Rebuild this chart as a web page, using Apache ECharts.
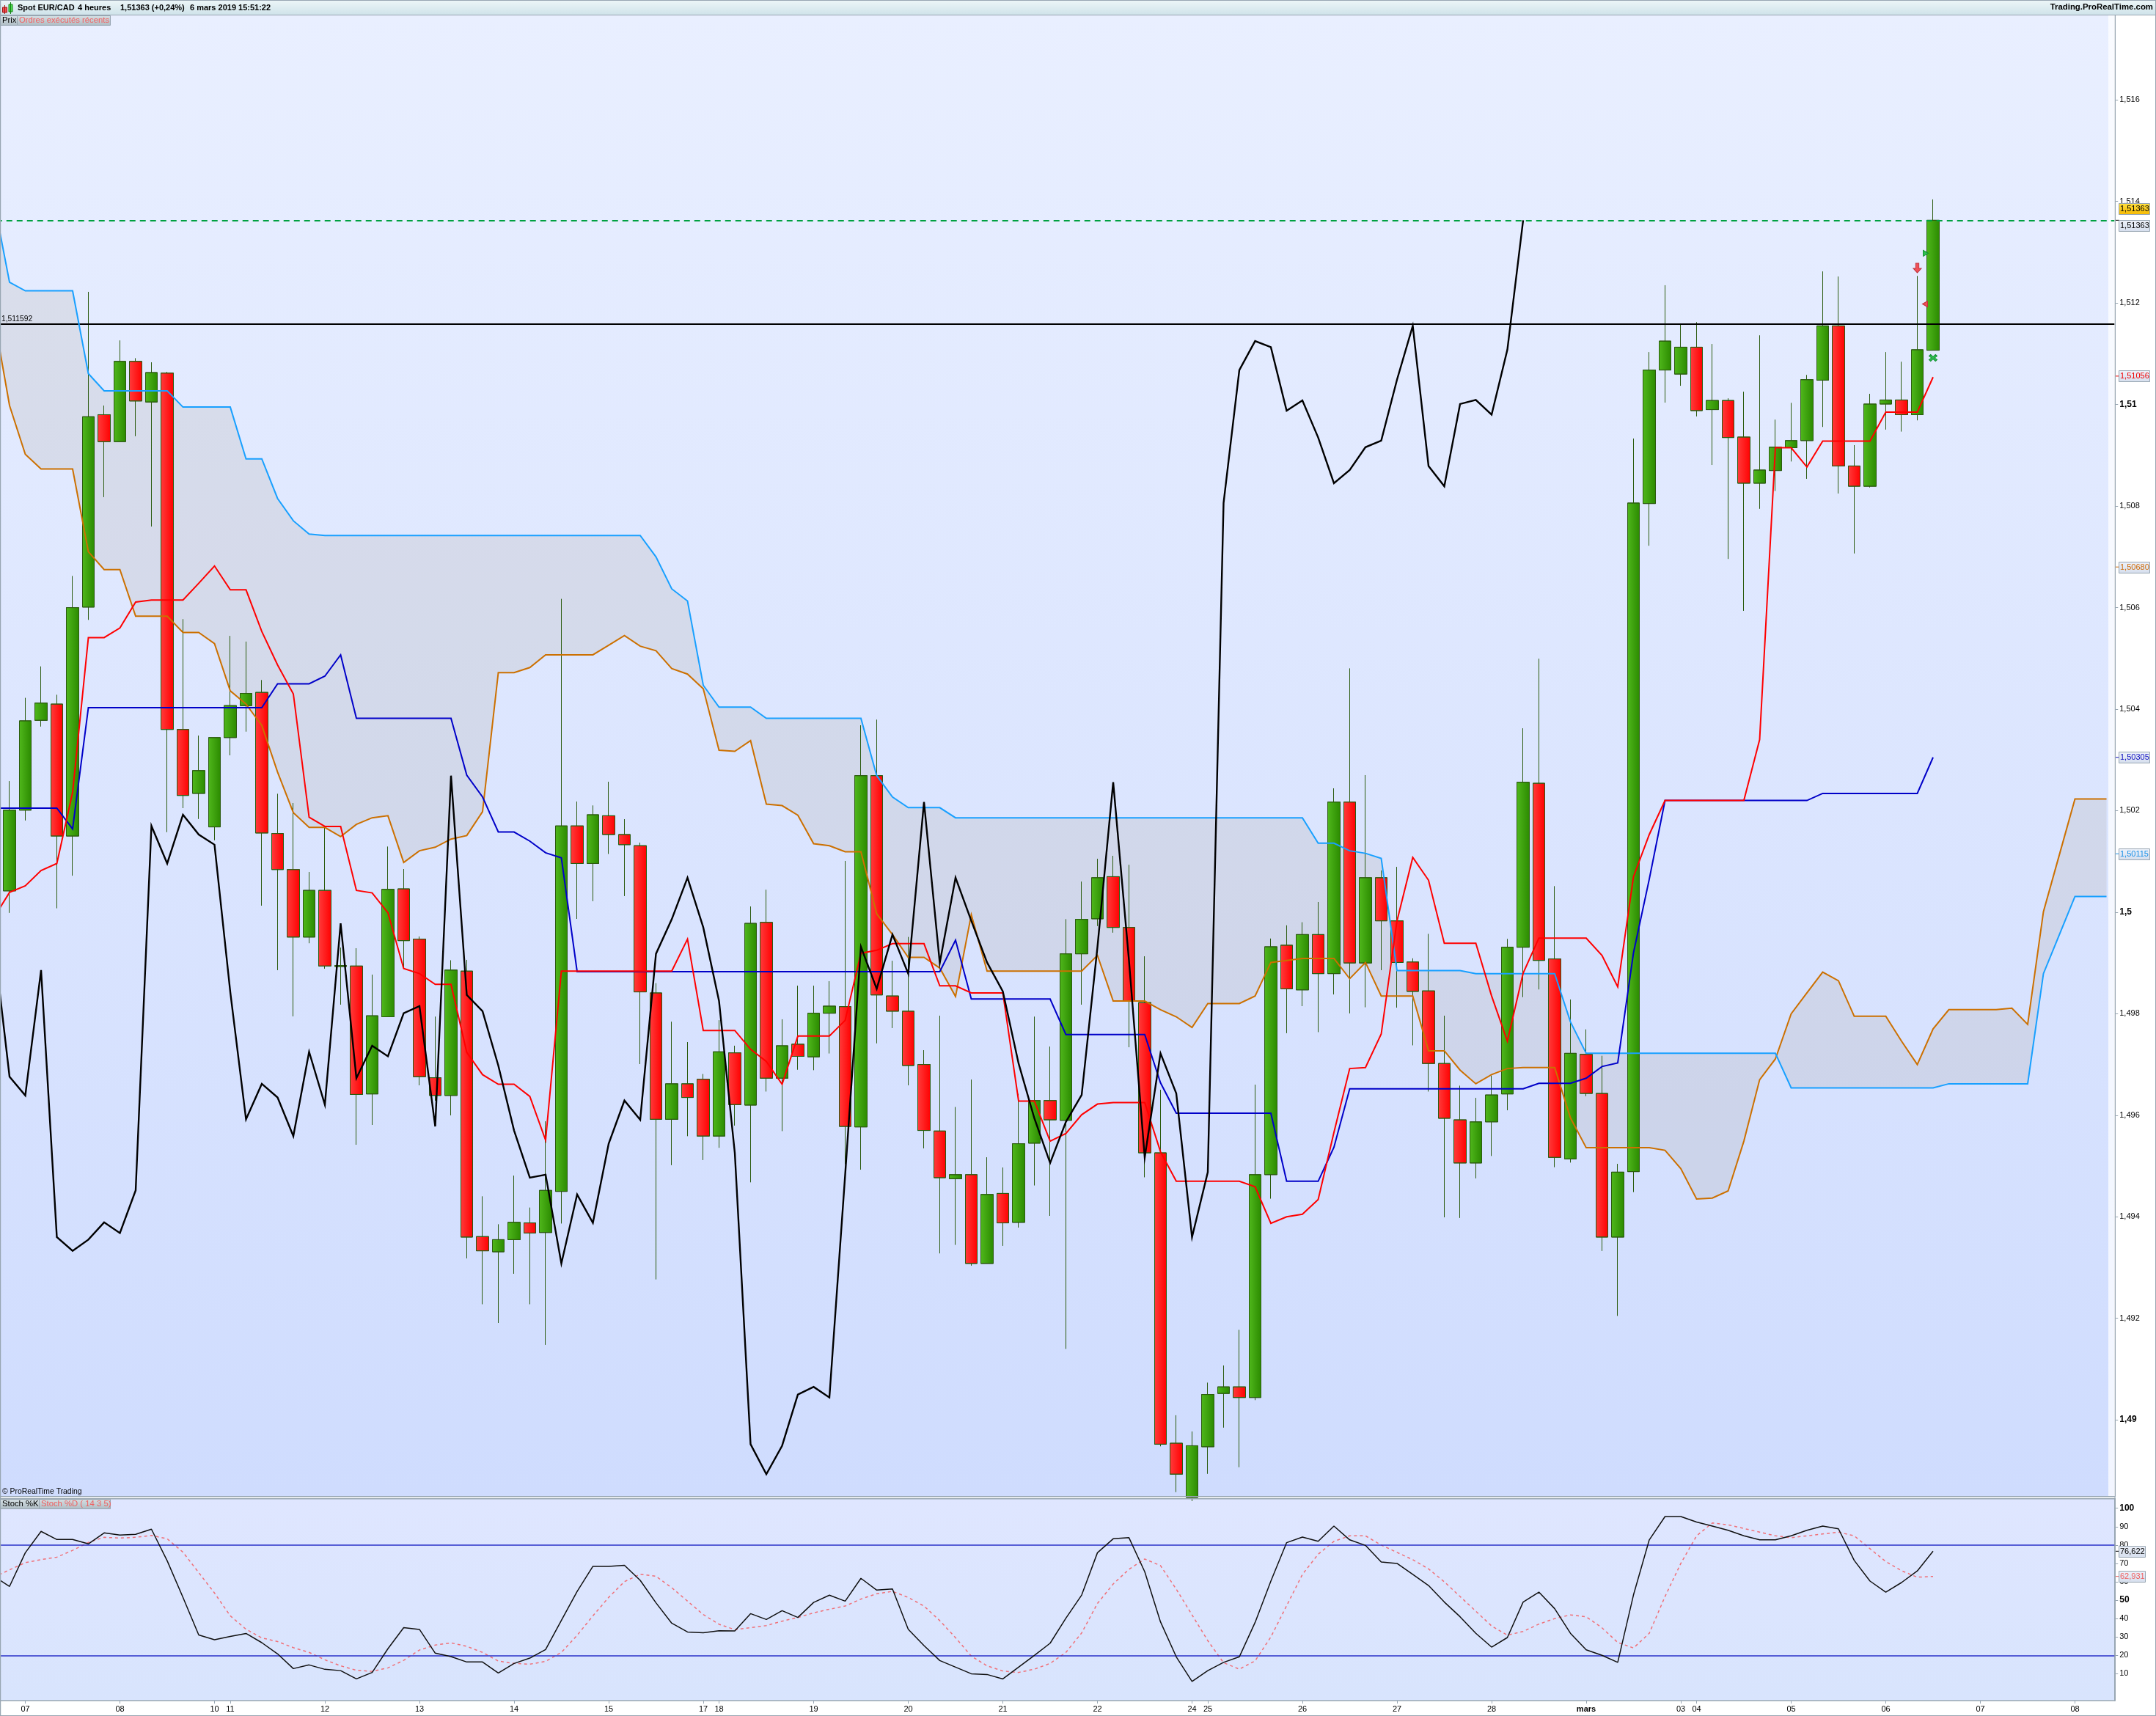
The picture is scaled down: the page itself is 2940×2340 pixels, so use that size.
<!DOCTYPE html>
<html>
<head>
<meta charset="utf-8">
<style>html,body{margin:0;padding:0;background:#fff}#c{width:2940px;height:2340px}</style>
<script src="https://cdn.jsdelivr.net/npm/echarts@6/dist/echarts.min.js"></script>
</head>
<body>
<div id="c"></div>
<script>
const opens=[null,1.50042,1.50201,1.50378,1.50410,1.50150,1.50601,1.50980,1.50927,1.51085,1.51005,1.51062,1.50360,1.50234,1.50168,1.50344,1.50407,1.50433,1.50155,1.50084,1.49951,1.50043,1.49893,1.49894,1.49642,1.49794,1.50046,1.49947,1.49674,1.49639,1.49884,1.49361,1.49331,1.49355,1.49388,1.49369,1.49450,1.50170,1.50096,1.50190,1.50153,1.50131,1.49841,1.49592,1.49662,1.49671,1.49559,1.49723,1.49620,1.49980,1.49673,1.49740,1.49715,1.49801,1.49814,1.49577,1.50269,1.49835,1.49805,1.49700,1.49569,1.49475,1.49483,1.49308,1.49446,1.49389,1.49545,1.49629,1.49590,1.49918,1.49987,1.50070,1.49970,1.49822,1.49526,1.48954,1.48847,1.48947,1.49052,1.49065,1.49044,1.49483,1.49935,1.49847,1.49956,1.49879,1.50217,1.49900,1.50068,1.49983,1.49902,1.49845,1.49702,1.49591,1.49506,1.49587,1.49642,1.49931,1.50254,1.49908,1.49514,1.49720,1.49643,1.49360,1.49489,1.50805,1.51068,1.51060,1.51113,1.50990,1.51008,1.50936,1.50845,1.50870,1.50915,1.50929,1.51048,1.51155,1.50879,1.50839,1.51001,1.51009,1.50980,1.51107];
const closes=[null,1.50201,1.50377,1.50412,1.50150,1.50600,1.50976,1.50927,1.51085,1.51007,1.51063,1.50360,1.50230,1.50279,1.50344,1.50407,1.50431,1.50156,1.50084,1.49951,1.50043,1.49894,1.49895,1.49641,1.49796,1.50045,1.49944,1.49676,1.49639,1.49886,1.49360,1.49333,1.49355,1.49389,1.49368,1.49452,1.50170,1.50096,1.50192,1.50153,1.50133,1.49843,1.49592,1.49662,1.49635,1.49559,1.49725,1.49621,1.49978,1.49673,1.49737,1.49716,1.49801,1.49815,1.49578,1.50269,1.49837,1.49805,1.49698,1.49570,1.49477,1.49483,1.49308,1.49444,1.49388,1.49544,1.49629,1.49591,1.49918,1.49986,1.50068,1.49970,1.49825,1.49526,1.48952,1.48893,1.48949,1.49050,1.49065,1.49044,1.49483,1.49932,1.49849,1.49956,1.49879,1.50217,1.49900,1.50068,1.49983,1.49901,1.49844,1.49702,1.49594,1.49506,1.49587,1.49640,1.49931,1.50256,1.49905,1.49517,1.49722,1.49643,1.49360,1.49488,1.50806,1.51068,1.51125,1.51113,1.50988,1.51008,1.50935,1.50845,1.50871,1.50916,1.50929,1.51049,1.51155,1.50879,1.50839,1.51001,1.51009,1.50980,1.51108,1.51363];
const lows=[null,1.49999,1.50181,1.50366,1.50008,1.50072,1.50576,1.50818,1.50927,1.50938,1.50760,1.50158,1.50205,1.50184,1.50142,1.50309,1.50356,1.50013,1.49886,1.49795,1.49939,1.49889,1.49818,1.49542,1.49581,1.49794,1.49890,1.49659,1.49629,1.49600,1.49318,1.49228,1.49191,1.49288,1.49228,1.49148,1.49387,1.49987,1.50022,1.50115,1.50032,1.49701,1.49277,1.49502,1.49559,1.49512,1.49536,1.49580,1.49468,1.49647,1.49569,1.49690,1.49689,1.49722,1.49504,1.49493,1.49742,1.49772,1.49659,1.49535,1.49328,1.49345,1.49304,1.49308,1.49343,1.49379,1.49462,1.49402,1.49140,1.49818,1.49973,1.49960,1.49734,1.49478,1.48948,1.48858,1.48840,1.48894,1.48985,1.48907,1.49039,1.49436,1.49762,1.49815,1.49764,1.49838,1.49801,1.49813,1.49886,1.49812,1.49738,1.49647,1.49399,1.49398,1.49476,1.49520,1.49610,1.49833,1.49848,1.49498,1.49507,1.49638,1.49333,1.49205,1.49449,1.50722,1.51004,1.51037,1.50977,1.50881,1.50696,1.50594,1.50795,1.50830,1.50888,1.50854,1.50956,1.50825,1.50707,1.50837,1.50951,1.50947,1.50969,1.51107];
const highs=[null,1.50258,1.50422,1.50484,1.50428,1.50662,1.51222,1.50998,1.51126,1.51091,1.51083,1.51064,1.50577,1.50348,1.50344,1.50544,1.50533,1.50457,1.50233,1.50215,1.50079,1.50168,1.49930,1.49929,1.49877,1.50129,1.50085,1.49952,1.49794,1.49905,1.49906,1.49440,1.49385,1.49481,1.49418,1.49588,1.50617,1.50218,1.50210,1.50257,1.50183,1.50137,1.49860,1.49784,1.49744,1.49681,1.49787,1.49737,1.50011,1.50044,1.49789,1.49855,1.49855,1.49864,1.50101,1.50368,1.50379,1.49904,1.49951,1.49728,1.49796,1.49616,1.49670,1.49517,1.49497,1.49642,1.49794,1.49735,1.49986,1.50060,1.50105,1.50111,1.50093,1.49913,1.49650,1.49009,1.48977,1.49073,1.49107,1.49177,1.49660,1.49948,1.49974,1.49980,1.50020,1.50244,1.50480,1.50270,1.50082,1.50089,1.49909,1.49957,1.49796,1.49658,1.49634,1.49678,1.49947,1.50362,1.50499,1.50051,1.49828,1.49769,1.49717,1.49504,1.50933,1.51103,1.51235,1.51159,1.51162,1.51119,1.51012,1.51025,1.51136,1.50970,1.51003,1.51058,1.51262,1.51252,1.50920,1.51021,1.51103,1.51084,1.51253,1.51404];
const tenkan=[1.49989,1.50039,1.50052,1.50082,1.50096,1.50236,1.50541,1.50541,1.50560,1.50611,1.50615,1.50615,1.50615,1.50648,1.50682,1.50635,1.50635,1.50553,1.50487,1.50430,1.50187,1.50169,1.50169,1.50043,1.50038,1.49999,1.49889,1.49879,1.49858,1.49858,1.49724,1.49680,1.49661,1.49661,1.49637,1.49551,1.49884,1.49884,1.49884,1.49884,1.49884,1.49884,1.49884,1.49884,1.49947,1.49767,1.49767,1.49767,1.49730,1.49706,1.49661,1.49756,1.49756,1.49756,1.49787,1.49919,1.49925,1.49938,1.49938,1.49938,1.49855,1.49855,1.49841,1.49841,1.49841,1.49628,1.49628,1.49549,1.49564,1.49601,1.49622,1.49625,1.49625,1.49625,1.49528,1.49470,1.49470,1.49470,1.49470,1.49470,1.49459,1.49387,1.49400,1.49405,1.49434,1.49566,1.49692,1.49694,1.49760,1.49983,1.50108,1.50063,1.49939,1.49939,1.49939,1.49835,1.49746,1.49880,1.49949,1.49949,1.49949,1.49949,1.49915,1.49853,1.50070,1.50153,1.50220,1.50220,1.50220,1.50220,1.50220,1.50220,1.50340,1.50915,1.50915,1.50877,1.50928,1.50928,1.50928,1.50928,1.50985,1.50985,1.50985,1.51054];
const kijun=[1.50205,1.50205,1.50205,1.50205,1.50205,1.50164,1.50403,1.50403,1.50403,1.50403,1.50403,1.50403,1.50403,1.50403,1.50403,1.50403,1.50403,1.50403,1.50450,1.50450,1.50450,1.50465,1.50507,1.50382,1.50382,1.50382,1.50382,1.50382,1.50382,1.50382,1.50270,1.50227,1.50158,1.50158,1.50140,1.50117,1.50107,1.49883,1.49883,1.49883,1.49883,1.49883,1.49883,1.49883,1.49883,1.49883,1.49883,1.49883,1.49883,1.49883,1.49883,1.49883,1.49883,1.49883,1.49883,1.49883,1.49883,1.49883,1.49883,1.49883,1.49883,1.49945,1.49829,1.49829,1.49829,1.49829,1.49829,1.49829,1.49759,1.49759,1.49759,1.49759,1.49759,1.49759,1.49664,1.49604,1.49604,1.49604,1.49604,1.49604,1.49604,1.49604,1.49470,1.49470,1.49470,1.49537,1.49652,1.49652,1.49652,1.49652,1.49652,1.49652,1.49652,1.49652,1.49652,1.49652,1.49652,1.49652,1.49663,1.49663,1.49663,1.49673,1.49696,1.49703,1.49920,1.50065,1.50220,1.50220,1.50220,1.50220,1.50220,1.50220,1.50220,1.50220,1.50220,1.50220,1.50234,1.50234,1.50234,1.50234,1.50234,1.50234,1.50234,1.50305];
const chikou=[1.49944,1.49676,1.49639,1.49886,1.49360,1.49333,1.49355,1.49389,1.49368,1.49452,1.50170,1.50096,1.50192,1.50153,1.50133,1.49843,1.49592,1.49662,1.49635,1.49559,1.49725,1.49621,1.49978,1.49673,1.49737,1.49716,1.49801,1.49815,1.49578,1.50269,1.49837,1.49805,1.49698,1.49570,1.49477,1.49483,1.49308,1.49444,1.49388,1.49544,1.49629,1.49591,1.49918,1.49986,1.50068,1.49970,1.49825,1.49526,1.48952,1.48893,1.48949,1.49050,1.49065,1.49044,1.49483,1.49932,1.49849,1.49956,1.49879,1.50217,1.49900,1.50068,1.49983,1.49901,1.49844,1.49702,1.49594,1.49506,1.49587,1.49640,1.49931,1.50256,1.49905,1.49517,1.49722,1.49643,1.49360,1.49488,1.50806,1.51068,1.51125,1.51113,1.50988,1.51008,1.50935,1.50845,1.50871,1.50916,1.50929,1.51049,1.51155,1.50879,1.50839,1.51001,1.51009,1.50980,1.51108,1.51363];
const senkouA=[1.51175,1.50998,1.50902,1.50873,1.50873,1.50873,1.50710,1.50675,1.50675,1.50583,1.50583,1.50583,1.50551,1.50551,1.50529,1.50436,1.50410,1.50368,1.50276,1.50196,1.50167,1.50167,1.50149,1.50173,1.50186,1.50190,1.50098,1.50121,1.50128,1.50144,1.50151,1.50198,1.50472,1.50472,1.50482,1.50507,1.50507,1.50507,1.50507,1.50526,1.50545,1.50524,1.50515,1.50480,1.50469,1.50440,1.50319,1.50317,1.50338,1.50213,1.50210,1.50191,1.50135,1.50131,1.50119,1.50119,1.49997,1.49956,1.49911,1.49911,1.49890,1.49834,1.49995,1.49884,1.49884,1.49884,1.49884,1.49884,1.49884,1.49884,1.49915,1.49825,1.49825,1.49825,1.49808,1.49794,1.49773,1.49820,1.49820,1.49820,1.49835,1.49901,1.49905,1.49909,1.49909,1.49909,1.49869,1.49901,1.49835,1.49835,1.49835,1.49727,1.49727,1.49689,1.49662,1.49680,1.49692,1.49694,1.49694,1.49694,1.49595,1.49536,1.49536,1.49536,1.49536,1.49536,1.49531,1.49495,1.49435,1.49437,1.49451,1.49549,1.49670,1.49711,1.49800,1.49841,1.49882,1.49865,1.49795,1.49795,1.49795,1.49746,1.49700,1.49770,1.49808,1.49808,1.49808,1.49808,1.49811,1.49779,1.50001,1.50112,1.50223,1.50223,1.50223];
const senkouB=[1.51402,1.51241,1.51224,1.51224,1.51224,1.51224,1.51061,1.51027,1.51027,1.51027,1.51027,1.51027,1.50995,1.50995,1.50995,1.50995,1.50893,1.50893,1.50815,1.50771,1.50745,1.50742,1.50742,1.50742,1.50742,1.50742,1.50742,1.50742,1.50742,1.50742,1.50742,1.50742,1.50742,1.50742,1.50742,1.50742,1.50742,1.50742,1.50742,1.50742,1.50742,1.50742,1.50700,1.50637,1.50613,1.50447,1.50404,1.50404,1.50404,1.50382,1.50382,1.50382,1.50382,1.50382,1.50382,1.50382,1.50269,1.50227,1.50206,1.50206,1.50206,1.50186,1.50186,1.50186,1.50186,1.50186,1.50186,1.50186,1.50186,1.50186,1.50186,1.50186,1.50186,1.50186,1.50186,1.50186,1.50186,1.50186,1.50186,1.50186,1.50186,1.50186,1.50186,1.50186,1.50136,1.50136,1.50121,1.50116,1.50106,1.49885,1.49885,1.49885,1.49885,1.49885,1.49879,1.49879,1.49879,1.49879,1.49879,1.49879,1.49784,1.49722,1.49722,1.49722,1.49722,1.49722,1.49722,1.49722,1.49722,1.49722,1.49722,1.49722,1.49722,1.49722,1.49654,1.49654,1.49654,1.49654,1.49654,1.49654,1.49654,1.49654,1.49654,1.49654,1.49662,1.49662,1.49662,1.49662,1.49662,1.49662,1.49879,1.49955,1.50031,1.50031,1.50031];
const stochK=[63,57.5,75.8,87.4,83,83,80.6,86.6,85.4,85.8,88.6,71.4,51.5,31.1,28.5,30.3,31.9,26.9,20.8,12.8,14.8,12.4,11.7,7.2,10.7,23.6,35.1,34.1,21.2,19.3,16.4,16.4,10.4,15.6,18.5,23.2,39,54.8,68.4,68.4,69,60.8,48.6,37.5,32.7,32.3,33.4,33.3,42.7,39.5,44.3,40.6,48.8,52.7,49.5,61.9,55.5,56.1,34.2,25.3,17.2,13.6,10,9.6,7.2,13.6,20,26.6,40.2,52.8,75.8,83.4,84,65.5,38.2,19.2,5.8,11.7,16.2,19.2,37.9,60.4,81.3,84.3,82,90.3,82.8,79.8,70.8,70,64,58,49,41,32,24.5,29.7,49,54.4,45.4,32,23,20,16.2,52.9,82.8,95.5,95.5,92.5,90.3,88,85,82.8,82.8,85,88,90.3,88.8,71.6,60.4,54.4,59.6,65.9,76.62];
const stochD=[62.5,66.5,70.4,72.1,73.4,77.1,81.4,84.2,83.8,84.2,85.2,83.4,76.1,65,53.9,41.5,34.2,29.5,27.5,24.2,21.6,17.6,14.3,11.9,11.3,13.2,17.3,22.9,25.6,26.8,24.9,21.6,16.9,15.6,15.2,16.7,21.6,30.9,41.5,51.5,60.1,64.1,63,56.8,49.5,42.2,36.9,34,35.1,36.2,38.6,40.6,43.1,45.1,46.8,50.6,53.5,54.8,51.5,46.8,38.9,29.6,19.6,14.3,11.5,10.7,12.5,15.6,21.6,32.2,48.2,58.8,66.8,72.4,68.8,56,42,28,16,12.5,17,30,47,64,75,82,85,85,80,76,72,67,60,52,44,36,31,33,37,40,42,41,35,27,24,32,52,70,85,92,91,89,87,85,84,85,86,87,85,78,71,66,62.5,62.93];
const tickIndex=[2,8,14,15,21,27,33,39,45,46,52,58,64,70,76,77,83,89,95,101,107,108,114,120,126,132];
const tickLabels=['07','08','10','11','12','13','14','15','17','18','19','20','21','22','24','25','26','27','28','mars','03','04','05','06','07','08'];
const priceTicks=[1.49,1.492,1.494,1.496,1.498,1.5,1.502,1.504,1.506,1.508,1.51,1.512,1.514,1.516];
const stochTicks=[10,20,30,40,50,60,70,80,90,100];
const resistance=1.511592, lastPrice=1.51363;
const stochLevels=[20,80];
const markerArrow=[[122,1.51269]], markerCross=[[123,1.51092]], markerLeft=[[123,1.51198]], markerRight=[[123,1.51298]];
const priceBoxes=[
 {v:1.51363,t:'1,51363',dy:-16,c:'#000',a:'#ffe040',b:'#f5b800',tick:null},
 {v:1.51363,t:'1,51363',dy:7,c:'#000',a:'#eef2fa',b:'#d5deed',tick:'#000'},
 {v:1.51056,t:'1,51056',dy:0,c:'#f00000',a:'#eef2fa',b:'#d5deed',tick:'#f00000'},
 {v:1.5068,t:'1,50680',dy:0,c:'#d07010',a:'#eef2fa',b:'#d5deed',tick:'#d07010'},
 {v:1.50305,t:'1,50305',dy:0,c:'#1010c0',a:'#eef2fa',b:'#d5deed',tick:'#1010c0'},
 {v:1.50115,t:'1,50115',dy:0,c:'#1890e8',a:'#eef2fa',b:'#d5deed',tick:'#1890e8'}];
const stochBoxes=[
 {v:76.622,t:'76,622',c:'#000',tick:'#000'},
 {v:62.931,t:'62,931',c:'#f06060',tick:'#f06060'}];

const FONT='"Liberation Sans", Arial, sans-serif';
const GREY='#98a6b2';
const categories=new Array(135).fill('');
tickIndex.forEach((ix,k)=>{categories[ix]=tickLabels[k];});
const candles=opens.map((o,i)=>o===null?['-','-','-','-']:[o,closes[i],lows[i],highs[i]]);
const LG=echarts.graphic.LinearGradient;
const chart=echarts.init(document.getElementById('c'),null,{renderer:'canvas',width:2940,height:2340});
const hGrad=(a,b)=>new LG(0,0,1,0,[{offset:0,color:a},{offset:1,color:b}]);
const vGrad=(a,b)=>new LG(0,0,0,1,[{offset:0,color:a},{offset:1,color:b}]);
const tickShow=(idx)=>categories[idx]!=='';
const lineS=(name,data,color,width,extra)=>Object.assign({type:'line',name,data,xAxisIndex:0,yAxisIndex:0,symbol:'none',smooth:false,z:5,
  lineStyle:{color,width,join:'miter',cap:'butt'},silent:true,animation:false},extra||{});
const marker=(data,path,size,fill,stroke,off)=>({type:'scatter',data,xAxisIndex:0,yAxisIndex:0,symbol:path,symbolSize:size,symbolOffset:off||[0,0],z:7,silent:true,
  itemStyle:{color:fill,borderColor:stroke,borderWidth:1,opacity:1}});

chart.setOption({
 animation:false,
 backgroundColor:'#ffffff',
 textStyle:{fontFamily:FONT},
 grid:[
  {left:-19.25,top:20,width:2902.5,height:2020,show:true,borderWidth:0,outerBoundsMode:'none',containLabel:false,backgroundColor:vGrad('#e9efff','#cfdcfe')},
  {left:-19.25,top:2043,width:2902.5,height:276,show:true,borderWidth:0,outerBoundsMode:'none',containLabel:false,backgroundColor:vGrad('#dfe6ff','#d8e4fd')}
 ],
 xAxis:[
  {type:'category',gridIndex:0,data:categories,boundaryGap:true,axisLine:{show:false},axisTick:{show:false},axisLabel:{show:false},splitLine:{show:false}},
  {type:'category',gridIndex:1,data:categories,boundaryGap:true,position:'bottom',
   axisLine:{show:true,onZero:false,lineStyle:{color:GREY,width:1.5}},
   axisTick:{show:true,alignWithLabel:true,length:4,interval:tickShow,lineStyle:{color:GREY,width:1}},
   axisLabel:{show:true,interval:tickShow,margin:6,fontSize:11,fontFamily:FONT,color:'#000',hideOverlap:false,
     formatter:v=>v==='mars'?'{b|mars}':v,rich:{b:{fontWeight:'bold',fontSize:11,fontFamily:FONT,color:'#000'}}},
   splitLine:{show:false}}
 ],
 yAxis:[
  {type:'value',gridIndex:0,position:'right',min:1.4885,max:1.51768,scale:true,
   axisLine:{show:true,onZero:false,lineStyle:{color:GREY,width:2}},
   axisTick:{show:true,length:5,customValues:priceTicks,lineStyle:{color:GREY,width:1}},
   axisLabel:{show:true,margin:7,fontSize:11,fontFamily:FONT,color:'#000',customValues:priceTicks,showMinLabel:true,showMaxLabel:true,
    formatter:v=>{const s=String(+v.toFixed(3)).replace('.',',');return s.length<=4?'{b|'+s+'}':s;},
    rich:{b:{fontWeight:'bold',fontSize:12,fontFamily:FONT,color:'#000'}}},
   splitLine:{show:false}},
  {type:'value',gridIndex:1,position:'right',min:-4.6,max:105.46,
   axisLine:{show:true,onZero:false,lineStyle:{color:GREY,width:2}},
   axisTick:{show:true,length:5,customValues:stochTicks,lineStyle:{color:GREY,width:1}},
   axisLabel:{show:true,margin:7,fontSize:11,fontFamily:FONT,color:'#000',customValues:stochTicks,
    formatter:v=>(v===100||v===50)?'{b|'+v+'}':String(v),
    rich:{b:{fontWeight:'bold',fontSize:12,fontFamily:FONT,color:'#000'}}},
   splitLine:{show:false}}
 ],
 series:[
  {type:'custom',name:'Nuage',xAxisIndex:0,yAxisIndex:0,z:1,silent:true,data:[[0,senkouA[0]]],
   renderItem:(p,api)=>{
     const pts=senkouA.map((v,i)=>api.coord([i,v]));
     for(let i=senkouB.length-1;i>=0;i--)pts.push(api.coord([i,senkouB[i]]));
     return {type:'polygon',shape:{points:pts},style:{fill:'rgba(160,150,130,0.16)',stroke:'none'}};
   }},
  {type:'candlestick',name:'Prix',data:candles,xAxisIndex:0,yAxisIndex:0,barWidth:17,z:3,silent:true,clip:true,
   itemStyle:{color:hGrad('#50b81c','#2b8a00'),color0:hGrad('#ff3c3c','#ff0000'),borderColor:'#2c5c10',borderColor0:'#2c5c10',borderColorDoji:'#2c5c10',borderWidth:1}},
  lineS('Senkou A',senkouA,'#cc7000',2),
  lineS('Senkou B',senkouB,'#18a0ff',2),
  lineS('Kijun',kijun,'#0000c8',2),
  lineS('Tenkan',tenkan,'#ff0000',2),
  lineS('Chikou',chikou,'#000000',2.4),
  {type:'line',data:[],xAxisIndex:0,yAxisIndex:0,z:6,silent:true,
   markLine:{silent:true,symbol:'none',animation:false,precision:7,label:{show:false},data:[
     {yAxis:resistance,lineStyle:{color:'#000',width:2.2,type:'solid'}},
     {yAxis:lastPrice,lineStyle:{color:'#00a040',width:2,type:[8,6]}}]}},
  marker(markerArrow,'path://M3,0H7V6H10L5,11L0,6H3Z',[11,13],'#f05058','#c03038'),
  marker(markerCross,'path://M0,2L2,0L5,3L8,0L10,2L7,4.5L10,7L8,9L5,6L2,9L0,7L3,4.5Z',[11,9],'#30c050','#109030'),
  marker(markerLeft,'path://M6,0V8L0,4Z',[7,8],'#f05058','#c03038',[-11,0]),
  marker(markerRight,'path://M0,0V8L6,4Z',[7,8],'#30c050','#109030',[-10,0]),
  {type:'line',name:'Stoch %K',data:stochK,xAxisIndex:1,yAxisIndex:1,symbol:'none',z:5,silent:true,lineStyle:{color:'#101010',width:1.5}},
  {type:'line',name:'Stoch %D',data:stochD,xAxisIndex:1,yAxisIndex:1,symbol:'none',z:4,silent:true,lineStyle:{color:'#f07078',width:1.5,type:[4,4]},
   markLine:{silent:true,symbol:'none',animation:false,label:{show:false},
     data:stochLevels.map(v=>({yAxis:v})),lineStyle:{color:'#2a32c8',width:1.5,type:'solid'}}}
 ]
});

const txt=(x,y,t,o)=>({type:'text',z:100,x,y,silent:true,style:Object.assign({text:t,font:'11px '+FONT,fill:'#000',textVerticalAlign:'middle',textBaseline:'middle'},o||{})});
const rect=(x,y,w,h,fill,stroke,z)=>({type:'rect',z:z||100,silent:true,shape:{x,y,width:w,height:h},style:{fill,stroke:stroke||'none',lineWidth:stroke?1:0}});
const chip=(x,y,w,h)=>rect(x+.5,y+.5,w,h,vGrad('#d6e0e4','#aebcc4'),GREY,99);
const chipFont='11.3px '+FONT;
const g=[];
// lighter strip at right of the price panel
g.push(rect(2875,20,9,2020,'rgba(255,255,255,0.72)',null,1));
// header
g.push(rect(0,0,2940,20,vGrad('#edf6f8','#cfe3ea'),null,90));
g.push(rect(0,0,2940,1,GREY,null,95),rect(0,20,2940,1,GREY,null,95));
g.push(rect(3.5,10,6,7,'#f05050','#a01010',96),rect(12,6,5,10,'#50e050','#108010',96));
g.push({type:'line',z:96,silent:true,shape:{x1:14.5,y1:3,x2:14.5,y2:19},style:{stroke:'#108010',lineWidth:1}});
g.push({type:'line',z:96,silent:true,shape:{x1:6.5,y1:7,x2:6.5,y2:19},style:{stroke:'#a01010',lineWidth:1}});
const hf='bold 11px '+FONT;
g.push(txt(24,11,'Spot EUR/CAD',{font:hf}),txt(106,11,'4 heures',{font:hf}),txt(164,11,'1,51363 (+0,24%)',{font:hf}),txt(259,11,'6 mars 2019 15:51:22',{font:hf}));
g.push(txt(2936,10,'Trading.ProRealTime.com',{font:'bold 11.4px '+FONT,textAlign:'right'}));
// chips
g.push(chip(0,21,23,13),chip(23,21,127,13));
g.push(txt(3,28,'Prix',{font:chipFont}),txt(26,28,'Ordres exécutés récents',{font:chipFont,fill:'#f56060'}));
g.push(chip(0,2044,53,13),chip(53,2044,97,13));
g.push(txt(3,2051,'Stoch %K',{font:chipFont}),txt(56,2051,'Stoch %D ( 14 3 5)',{font:chipFont,fill:'#f06060'}));
g.push(txt(3,2034,'© ProRealTime Trading',{font:'10.4px '+FONT}));
const ry=chart.convertToPixel({yAxisIndex:0},resistance);
g.push(txt(2,ry-6,'1,511592',{font:'10.3px '+FONT}));
// panel frame
g.push(rect(0,2040,2885,1.5,GREY,null,95),rect(0,2043,2885,1.5,GREY,null,95));
g.push(rect(0,0,1.2,2340,GREY,null,95),rect(2939,0,1,2340,GREY,null,95),rect(0,2339,2940,1,GREY,null,95));
// value boxes
priceBoxes.forEach(b=>{
  const y=chart.convertToPixel({yAxisIndex:0},b.v);
  if(b.tick)g.push({type:'line',z:98,silent:true,shape:{x1:2885,y1:y,x2:2890,y2:y},style:{stroke:b.tick,lineWidth:1}});
  g.push(rect(2889.5,Math.round(y+b.dy-7.5)+.5,42,15,vGrad(b.a,b.b),GREY,99));
  g.push(txt(2891,y+b.dy+.5,b.t,{fill:b.c}));
});
stochBoxes.forEach(b=>{
  const y=chart.convertToPixel({yAxisIndex:1},b.v);
  g.push({type:'line',z:98,silent:true,shape:{x1:2885,y1:y,x2:2890,y2:y},style:{stroke:b.tick,lineWidth:1}});
  g.push(rect(2889.5,Math.round(y-7.5)+.5,36,15,vGrad('#eef2fa','#d5deed'),GREY,99));
  g.push(txt(2891,y+.5,b.t,{fill:b.c}));
});
chart.setOption({graphic:{elements:g}});
</script>
</body>
</html>
